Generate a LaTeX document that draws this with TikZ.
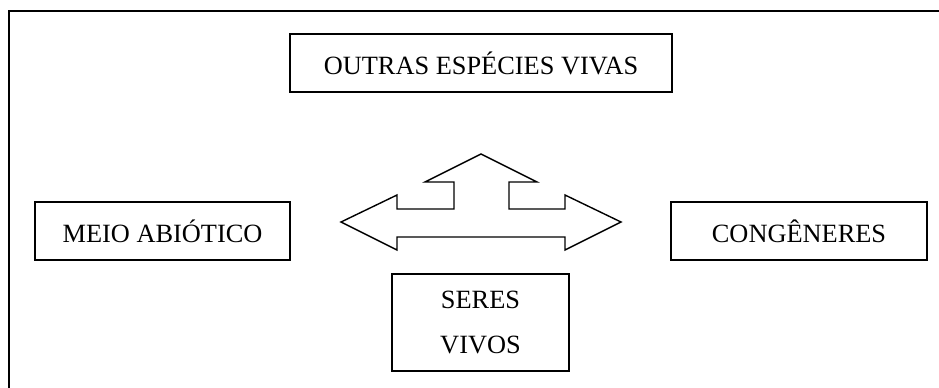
\documentclass[tikz,border=0pt]{standalone}
\usepackage{fontspec}
\setmainfont{Liberation Serif}
\usepackage{xcolor}

\tikzset{caixa/.style={draw, thick, line width=1pt, inner sep=0pt, align=center,
  font=\fontsize{15}{25.6}\selectfont}}

\begin{document}
\begin{tikzpicture}[x=0.02cm, y=-0.02cm]
\useasboundingbox (0,0) rectangle (939,387);
\clip (0,0) rectangle (939,387);

% Frame
\draw[line width=1.1pt] (9,400) -- (9,11) -- (950,11);

% Boxes
\node[caixa, minimum width=7.64cm, minimum height=1.16cm] (outras) at (481,63) {OUTRAS ESPÉCIES VIVAS};
\node[caixa, minimum width=5.10cm, minimum height=1.16cm] (meio) at (162.5,231) {MEIO ABIÓTICO};
\node[caixa, minimum width=5.12cm, minimum height=1.16cm] (cong) at (799,231) {CONGÊNERES};
\node[caixa, minimum width=3.54cm, minimum height=1.94cm] (seres) at (480.5,322.5) {SERES\\VIVOS};

% Arrow
\draw[line width=0.8pt, line join=miter] (341,222) -- (397,195) -- (397,209) -- (454,209)
  -- (454,182) -- (425,182) -- (481,154) -- (537,182) -- (509,182) -- (509,209)
  -- (565,209) -- (565,195) -- (621,222) -- (565,250) -- (565,237) -- (397,237)
  -- (397,250) -- cycle;
\end{tikzpicture}
\end{document}
